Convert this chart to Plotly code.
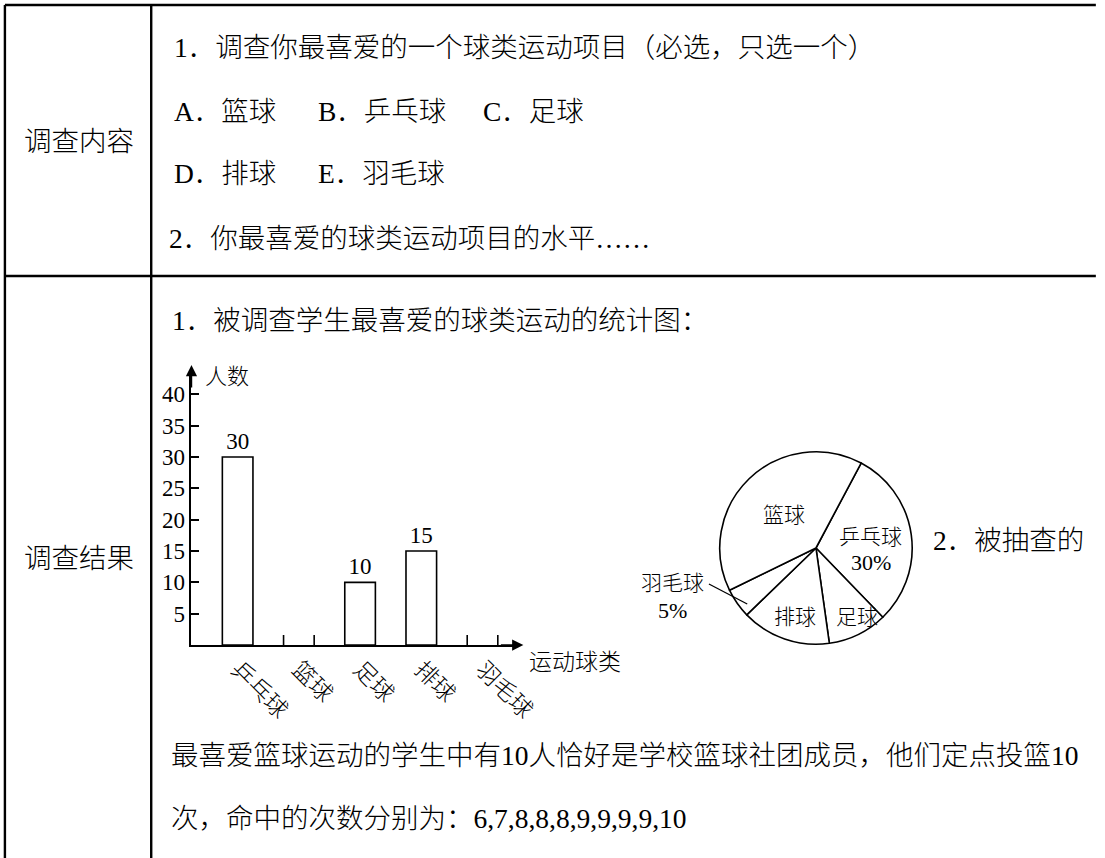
import plotly.graph_objects as go

W, H = 1105, 858

# ---------------- data ----------------
categories = ["乒乓球", "篮球", "足球", "排球", "羽毛球"]
bar_counts = [30, None, 10, 15, None]          # 篮球 / 羽毛球 are blank in the chart
y_ticks = [5, 10, 15, 20, 25, 30, 35, 40]

pie_labels = ["乒乓球", "足球", "排球", "羽毛球", "篮球"]
pie_percent = [30, 10, 15, 5, 40]

survey_content = [
    "1．调查你最喜爱的一个球类运动项目（必选，只选一个）",
    "2．你最喜爱的球类运动项目的水平……",
]
options_line1 = ["A．篮球", "B．乒乓球", "C．足球"]
options_line2 = ["D．排球", "E．羽毛球"]
result_lines = [
    "1．被调查学生最喜爱的球类运动的统计图：",
    "最喜爱篮球运动的学生中有10人恰好是学校篮球社团成员，他们定点投篮10",
    "次，命中的次数分别为：6,7,8,8,8,9,9,9,9,10",
]
pie_side_text = "2．被抽查的"
row_labels = ["调查内容", "调查结果"]

FONT = "Liberation Serif, Noto Sans CJK SC, serif"
WEIGHT = 300


def px(x):
    return x / W


def py(y):
    return 1 - y / H


fig = go.Figure()

# ---------------- bar chart ----------------
xs = list(range(len(categories)))
fig.add_trace(go.Bar(
    x=xs, y=bar_counts, width=0.5,
    marker=dict(color="white", line=dict(color="black", width=1.6)),
    text=[("" if v is None else str(v)) for v in bar_counts],
    textposition="outside", cliponaxis=False,
    textfont=dict(family=FONT, size=23, color="black", weight=WEIGHT),
    xaxis="x", yaxis="y", showlegend=False, hoverinfo="skip",
))

# short edge marks for categories whose bar is left blank
shapes = []
for i, v in enumerate(bar_counts):
    if v is None:
        for dx in (-0.25, 0.25):
            shapes.append(dict(type="line", xref="x", yref="y",
                               x0=i + dx, x1=i + dx, ysizemode="pixel", yanchor=0,
                               y0=0, y1=10, line=dict(color="black", width=1.6)))

# ---------------- pie chart ----------------
fig.add_trace(go.Pie(
    labels=pie_labels, values=pie_percent, sort=False, direction="clockwise",
    rotation=28, textinfo="none", hoverinfo="skip", showlegend=False,
    marker=dict(colors=["white"] * len(pie_labels), line=dict(color="black", width=1.6)),
    domain=dict(x=[px(733), px(929)], y=[py(646), py(450)]),
))

# ---------------- table lines ----------------
lw = 2.4
shapes += [
    dict(type="line", xref="paper", yref="paper", x0=px(5), x1=1.01, y0=py(5), y1=py(5),
         line=dict(color="black", width=lw)),
    dict(type="line", xref="paper", yref="paper", x0=px(5), x1=px(5), y0=py(5), y1=-0.01,
         line=dict(color="black", width=lw)),
    dict(type="line", xref="paper", yref="paper", x0=px(154), x1=px(154), y0=py(5), y1=-0.01,
         line=dict(color="black", width=lw)),
    dict(type="line", xref="paper", yref="paper", x0=px(5), x1=1.01, y0=py(276), y1=py(276),
         line=dict(color="black", width=lw)),
    # leader line for 羽毛球 label
    dict(type="line", xref="paper", yref="paper", x0=px(722), x1=px(761), y0=py(584), y1=py(604),
         line=dict(color="black", width=1.3)),
]

ann = []


def text(t, x, y, size=27.5, xanchor="left"):
    ann.append(dict(text=t, x=px(x), y=py(y), xref="paper", yref="paper", showarrow=False,
                    xanchor=xanchor, yanchor="middle",
                    font=dict(family=FONT, size=size, color="black", weight=WEIGHT)))


# row labels
text(row_labels[0], 80, 141, xanchor="center")
text(row_labels[1], 80, 558, xanchor="center")

# row 1 content
text(survey_content[0], 175, 48)
for t, x in zip(options_line1, [175, 322, 490]):
    text(t, x, 111)
for t, x in zip(options_line2, [175, 322]):
    text(t, x, 173)
text(survey_content[1], 170, 238)

# row 2 content
text(result_lines[0], 173, 320)
text(result_lines[1], 172, 755)
text(result_lines[2], 172, 818)
text(pie_side_text, 948, 540)

# bar chart axis titles
text("人数", 207, 376, size=22)
text("运动球类", 537, 662, size=23)

# pie labels
pie_pos = {"篮球": (798, 515), "乒乓球": (887, 537), "排球": (810, 617), "足球": (873, 617),
           "羽毛球": (685, 583)}
pct_pos = {"乒乓球": (887, 562), "羽毛球": (685, 610)}
for lab, pct in zip(pie_labels, pie_percent):
    x, y = pie_pos[lab]
    text(lab, x, y, size=21, xanchor="center")
    if lab in pct_pos:
        x, y = pct_pos[lab]
        text(f"{pct}%", x, y, size=22, xanchor="center")

# axis arrowheads
ann.append(dict(x=px(195), y=py(365), ax=0, ay=24, xref="paper", yref="paper", text="",
                showarrow=True, arrowhead=2, arrowsize=1.5, arrowwidth=1.5, arrowcolor="black"))
ann.append(dict(x=px(533), y=py(645), ax=-24, ay=0, xref="paper", yref="paper", text="",
                showarrow=True, arrowhead=2, arrowsize=1.5, arrowwidth=1.5, arrowcolor="black"))

fig.update_layout(
    width=W, height=H, autosize=False,
    margin=dict(l=0, r=0, t=0, b=0),
    paper_bgcolor="white", plot_bgcolor="white",
    shapes=shapes, annotations=ann,
    xaxis=dict(domain=[px(195), px(526)], range=[-0.7544, 4.555],
               tickvals=xs, ticktext=categories, tickangle=45, ticks="",
               showline=True, linecolor="black", linewidth=1.6, showgrid=False,
               zeroline=False, tickfont=dict(family=FONT, size=23, color="black", weight=WEIGHT),
               fixedrange=True),
    yaxis=dict(domain=[py(645), py(370)], range=[0, 275 / 6.2675],
               tickvals=y_ticks, ticks="inside", ticklen=8, tickwidth=1.5, tickcolor="black",
               showline=True, linecolor="black", linewidth=1.6, showgrid=False,
               zeroline=False, tickfont=dict(family=FONT, size=23, color="black", weight=WEIGHT),
               fixedrange=True),
)

fig.write_html("out.html")
